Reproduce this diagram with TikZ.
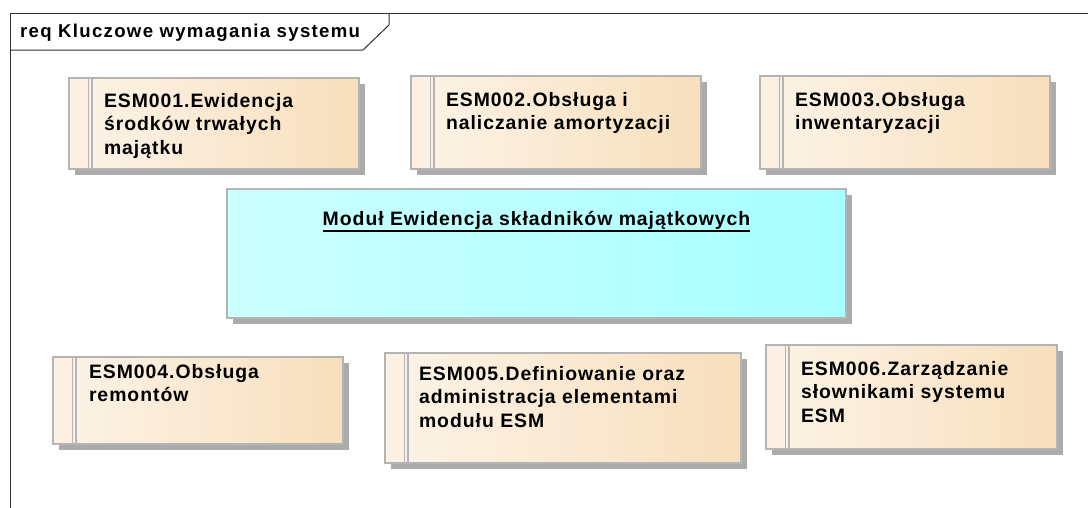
\documentclass[tikz,border=0pt]{standalone}
\usepackage{fontspec}
\setmainfont{Liberation Sans}
\newfontfamily\eafont[LetterSpace=5]{Liberation Sans}
\newfontfamily\hdfont[LetterSpace=7]{Liberation Sans}
\usetikzlibrary{shadows,calc}
\definecolor{reqL}{HTML}{FCF4E8}
\definecolor{reqR}{HTML}{F8DFBC}
\definecolor{reqStrip}{HTML}{FBF0E3}
\definecolor{modL}{HTML}{CCFFFF}
\definecolor{modR}{HTML}{A8FFFF}
\definecolor{edgegray}{HTML}{B4B4B4}
\definecolor{shadegray}{HTML}{ABABAB}
\definecolor{framecol}{HTML}{303030}
\tikzset{
  boxshadow/.style={drop shadow={shadow xshift=6pt, shadow yshift=-6pt, fill=shadegray, opacity=1}},
  reqbox/.style={draw=edgegray, line width=1.3pt, left color=reqL, right color=reqR,
    inner sep=0pt, outer sep=0pt, anchor=north west, boxshadow,
    path picture={
      \fill[reqStrip] (path picture bounding box.north west) rectangle ([xshift=21.5pt]path picture bounding box.south west);
      \draw[edgegray, line width=1.3pt] ([xshift=19.5pt]path picture bounding box.north west) -- ([xshift=19.5pt]path picture bounding box.south west);
      \draw[edgegray, line width=1.3pt] ([xshift=23pt]path picture bounding box.north west) -- ([xshift=23pt]path picture bounding box.south west);
    }},
  modbox/.style={draw=edgegray, line width=1.3pt, left color=modL, right color=modR,
    inner sep=0pt, outer sep=0pt, anchor=north west, boxshadow},
  reqtext/.style={anchor=base west, inner sep=0pt, outer sep=0pt,
    font=\fontsize{19.4}{23.5}\selectfont\eafont\bfseries},
  frameline/.style={draw=framecol, line width=1pt},
}
\newcommand{\reqlines}[1]{\parbox[t]{330pt}{\raggedright #1}}
\begin{document}
\begin{tikzpicture}[x=1pt,y=-1pt]
\useasboundingbox (0,0) rectangle (1088,507);
\fill[white] (0,0) rectangle (1088,507);
% frame
\coordinate (fTR) at (1089,13);
\coordinate (fTL) at (10,13);
\coordinate (fBL) at (10,508);
\draw[frameline] (fTR) -- (fTL) -- (fBL);
\coordinate (tabA) at (10,50);
\coordinate (tabB) at (363,50);
\coordinate (tabC) at (389,25);
\coordinate (tabD) at (389,13);
\draw[frameline] (tabA) -- (tabB) -- (tabC) -- (tabD);
\node[anchor=base west, inner sep=0pt, font=\fontsize{18.6}{22}\selectfont\hdfont\bfseries] (hdr) at (20,37.7) {req Kluczowe wymagania systemu};

% requirement boxes
\node[reqbox, minimum width=290pt, minimum height=91pt] (r1) at (69,78) {};
\node[reqbox, minimum width=290pt, minimum height=93pt] (r2) at (411,76) {};
\node[reqbox, minimum width=290pt, minimum height=93pt] (r3) at (760,76) {};
\node[reqbox, minimum width=290pt, minimum height=87pt] (r4) at (53,357) {};
\node[reqbox, minimum width=356pt, minimum height=110pt] (r5) at (385,353) {};
\node[reqbox, minimum width=291pt, minimum height=104pt] (r6) at (766,345) {};

\node[reqtext] (t1) at ($(r1.north west)+(35,29)$) {\reqlines{ESM001.Ewidencja\\ środków trwałych\\ majątku}};
\node[reqtext] (t2) at ($(r2.north west)+(35,30)$) {\reqlines{ESM002.Obsługa i\\ naliczanie amortyzacji}};
\node[reqtext] (t3) at ($(r3.north west)+(35,30)$) {\reqlines{ESM003.Obsługa\\ inwentaryzacji}};
\node[reqtext] (t4) at ($(r4.north west)+(36,21)$) {\reqlines{ESM004.Obsługa\\ remontów}};
\node[reqtext] (t5) at ($(r5.north west)+(34,27)$) {\reqlines{ESM005.Definiowanie oraz\\ administracja elementami\\ modułu ESM}};
\node[reqtext] (t6) at ($(r6.north west)+(35,30)$) {\reqlines{ESM006.Zarządzanie\\ słownikami systemu\\ ESM}};

% module box
\node[modbox, minimum width=619pt, minimum height=129pt] (mod) at (227,189) {};
\node[reqtext, anchor=base] (modt) at ($(mod.north)+(0,36.7)$) {Moduł Ewidencja składników majątkowych};
\draw[black, line width=1.8pt] ($(modt.base west)+(0,5.4)$) -- ($(modt.base east)+(0,5.4)$);
\end{tikzpicture}
\end{document}
